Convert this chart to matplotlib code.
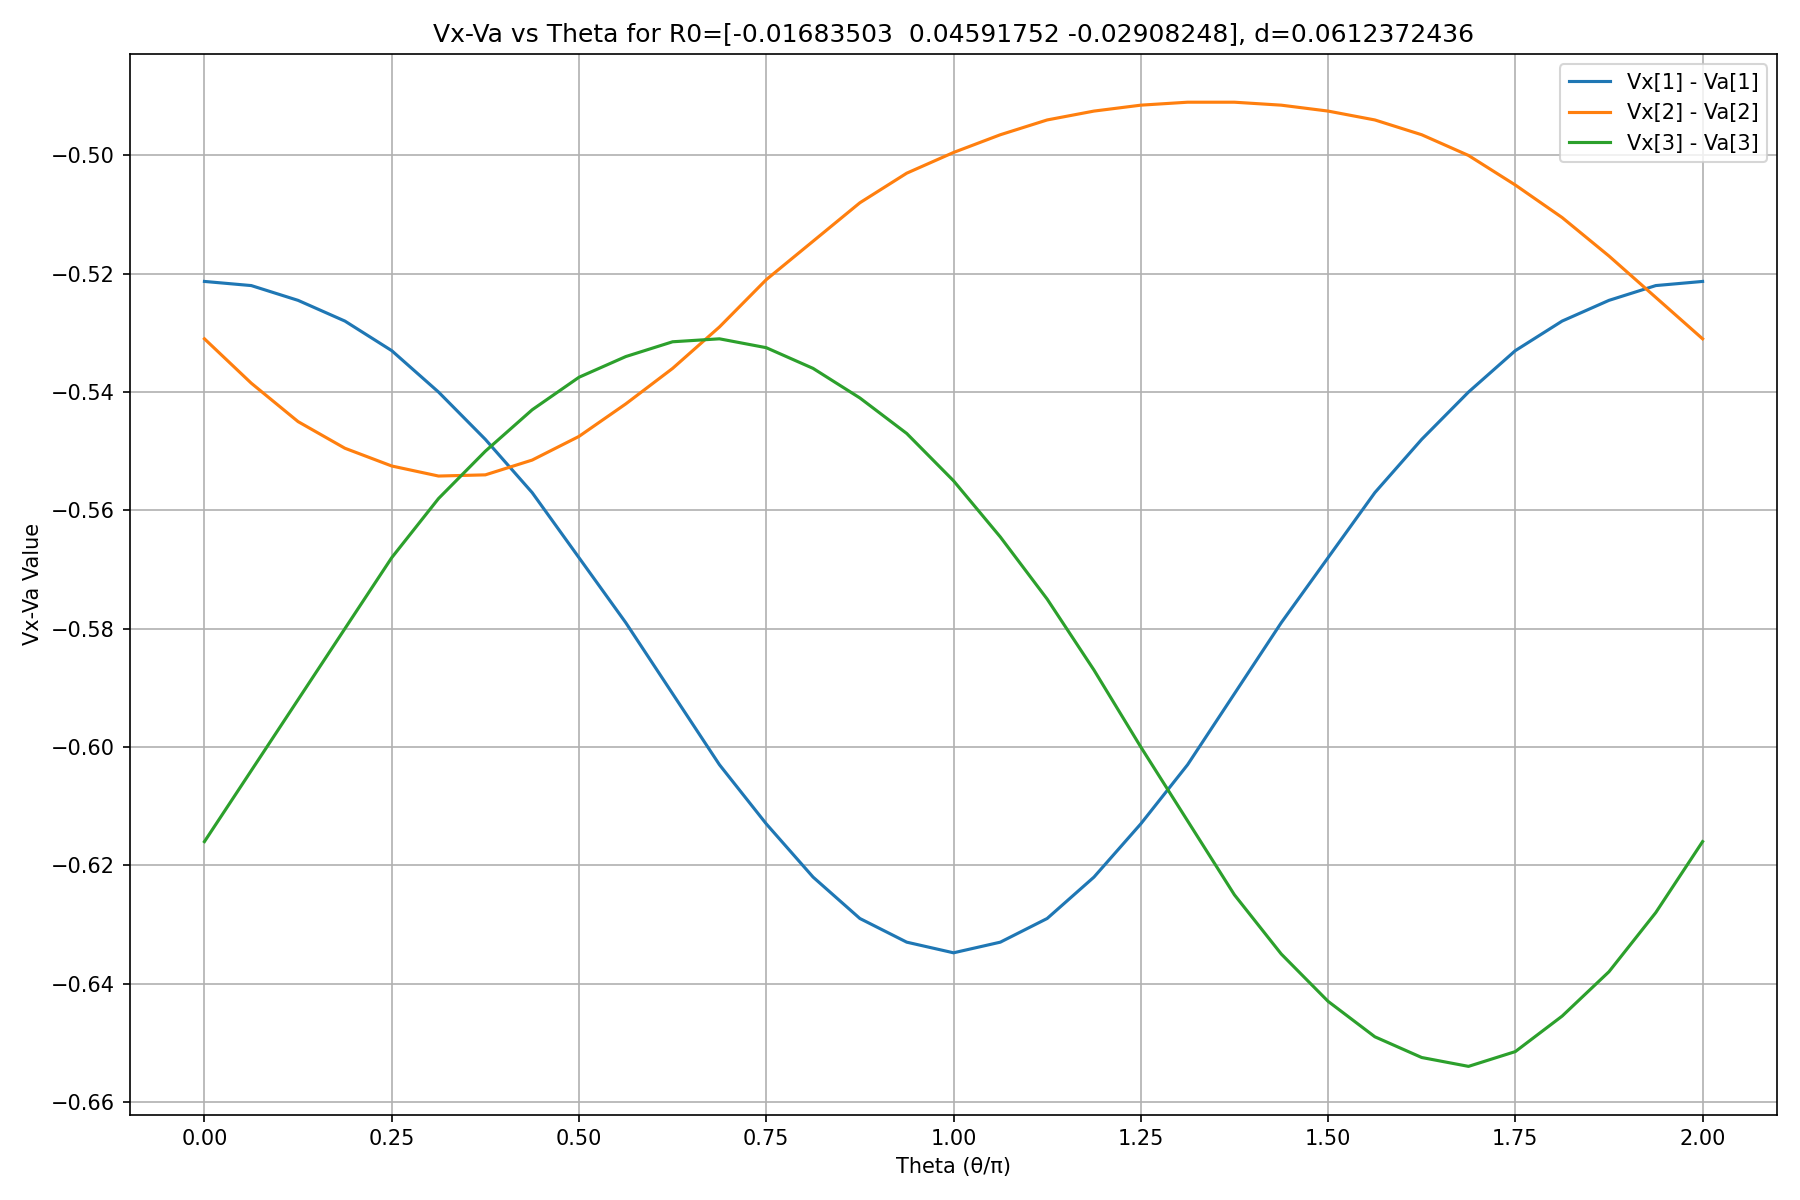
import matplotlib
matplotlib.use("Agg")
import matplotlib.pyplot as plt

# values (theta in units of pi, step 1/16)
theta = [0, 0.0625, 0.125, 0.1875, 0.25, 0.3125, 0.375, 0.4375, 0.5,
         0.5625, 0.625, 0.6875, 0.75, 0.8125, 0.875, 0.9375, 1.0,
         1.0625, 1.125, 1.1875, 1.25, 1.3125, 1.375, 1.4375, 1.5,
         1.5625, 1.625, 1.6875, 1.75, 1.8125, 1.875, 1.9375, 2.0]

diff1 = [-0.5213, -0.5220, -0.5245, -0.528, -0.533, -0.540, -0.548, -0.557, -0.568,
         -0.579, -0.591, -0.603, -0.613, -0.622, -0.629, -0.633, -0.6348,
         -0.633, -0.629, -0.622, -0.613, -0.603, -0.591, -0.579, -0.568,
         -0.557, -0.548, -0.540, -0.533, -0.528, -0.5245, -0.5220, -0.5213]

diff2 = [-0.531, -0.5385, -0.545, -0.5495, -0.5525, -0.5542, -0.554, -0.5515, -0.5475,
         -0.542, -0.536, -0.529, -0.521, -0.5145, -0.508, -0.503, -0.4995,
         -0.4965, -0.494, -0.4925, -0.4915, -0.491, -0.491, -0.4915, -0.4925,
         -0.494, -0.4965, -0.500, -0.505, -0.5105, -0.517, -0.524, -0.531]

diff3 = [-0.616, -0.604, -0.592, -0.580, -0.568, -0.558, -0.550, -0.543, -0.5375,
         -0.534, -0.5315, -0.531, -0.5325, -0.536, -0.541, -0.547, -0.555,
         -0.5645, -0.575, -0.587, -0.600, -0.6125, -0.625, -0.635, -0.643,
         -0.649, -0.6525, -0.654, -0.6515, -0.6455, -0.638, -0.628, -0.616]

plt.figure(figsize=(12, 8), dpi=150)
plt.plot(theta, diff1, label="Vx[1] - Va[1]")
plt.plot(theta, diff2, label="Vx[2] - Va[2]")
plt.plot(theta, diff3, label="Vx[3] - Va[3]")
plt.title("Vx-Va vs Theta for R0=[-0.01683503  0.04591752 -0.02908248], d=0.0612372436")
plt.xlabel("Theta (θ/π)")
plt.ylabel("Vx-Va Value")
plt.grid()
plt.legend(loc="upper right")
plt.tight_layout()
plt.savefig("out.png")
